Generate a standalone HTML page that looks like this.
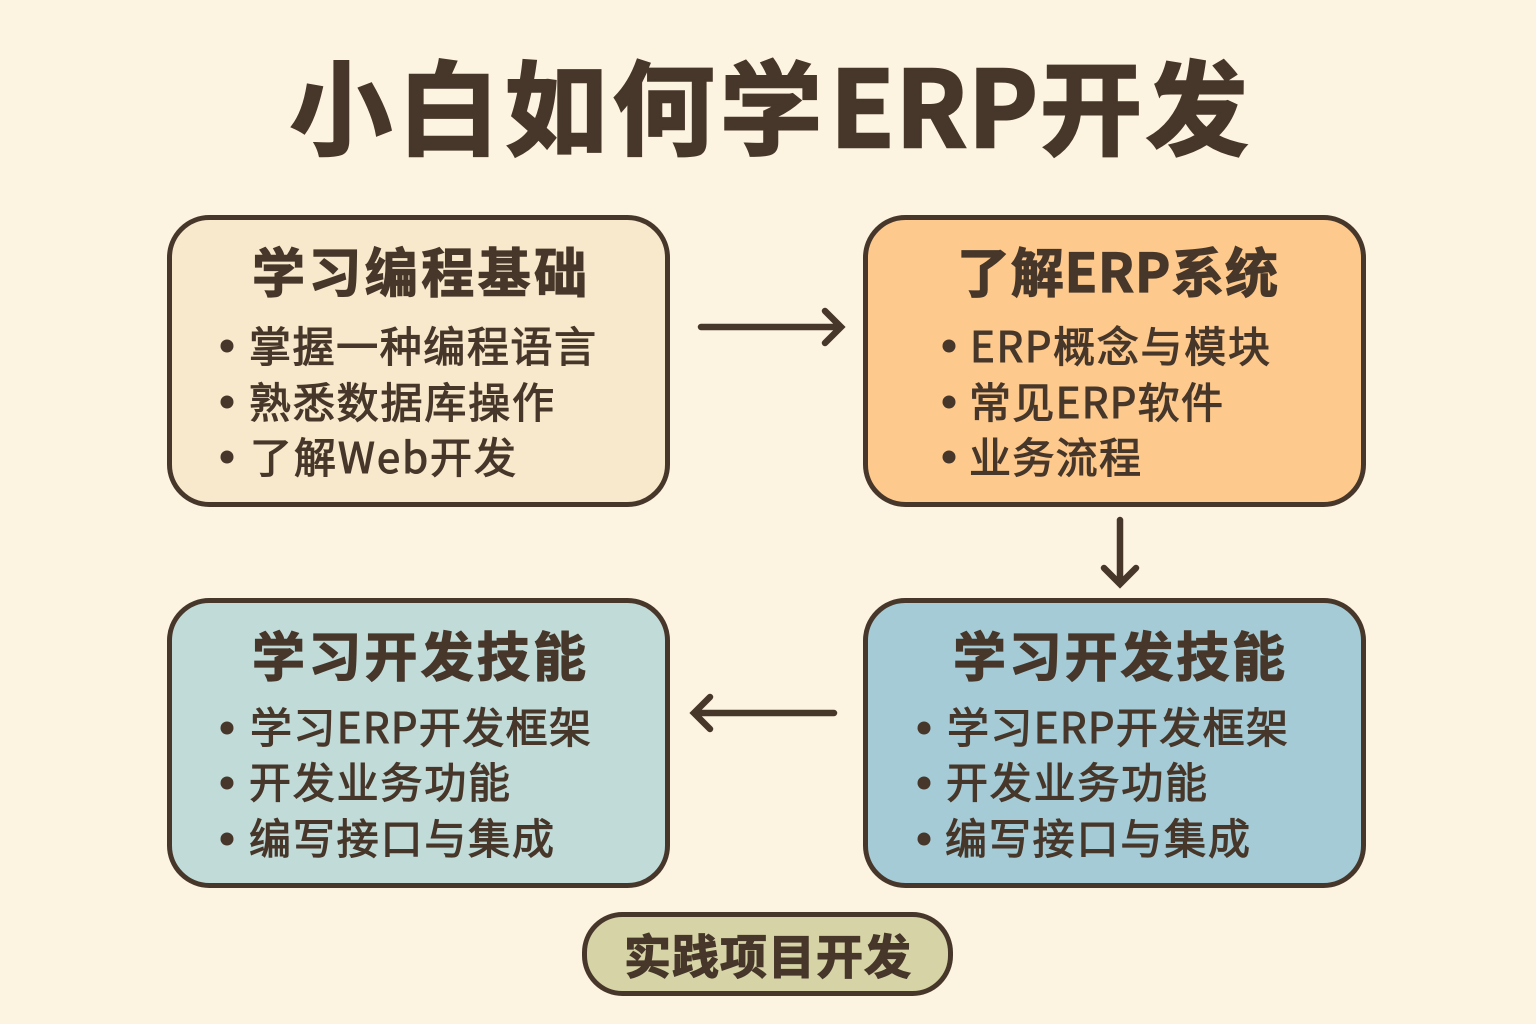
<!DOCTYPE html>
<html lang="zh">
<head>
<meta charset="utf-8">
<title>小白如何学ERP开发</title>
<style>
html,body{margin:0;padding:0;background:#fdf3e1;}
svg{display:block;}
text{font-family:"Noto Sans CJK SC","Liberation Sans",sans-serif;fill:#46372a;}
.t{font-weight:700;font-size:102px;stroke:#46372a;stroke-width:2.500px;}
.h{font-weight:700;font-size:53px;stroke:#46372a;stroke-width:1.200px;}
.l{font-weight:400;font-size:42px;stroke:#46372a;stroke-width:1.100px;}
.box{stroke:#46372a;stroke-width:5px;}
.ar{stroke:#46372a;stroke-width:6.500px;fill:none;stroke-linecap:round;stroke-linejoin:miter;}
.d{fill:#46372a;}
</style>
</head>
<body>
<svg width="1536" height="1024" viewBox="0 0 1536 1024" xmlns="http://www.w3.org/2000/svg">
<rect width="1536" height="1024" fill="#fdf3e1"/>

<text class="t" x="290" y="147" textLength="532" lengthAdjust="spacing">小白如何学</text>
<text class="t" x="830" y="147" textLength="208" lengthAdjust="spacing" style="font-size:105px">ERP</text>
<text class="t" x="1040" y="147" textLength="208" lengthAdjust="spacing">开发</text>

<!-- Box 1 -->
<rect class="box" x="169.500" y="217.500" width="498" height="287" rx="40" fill="#f8e8cc"/>
<text class="h" x="252" y="292" textLength="335" lengthAdjust="spacing">学习编程基础</text>
<circle class="d" cx="227" cy="346" r="6.500"/>
<circle class="d" cx="227" cy="402" r="6.500"/>
<circle class="d" cx="227" cy="457" r="6.500"/>
<text class="l" x="249" y="362" textLength="347" lengthAdjust="spacing">掌握一种编程语言</text>
<text class="l" x="249" y="418" textLength="305" lengthAdjust="spacing">熟悉数据库操作</text>
<text class="l" x="250" y="473" textLength="266" lengthAdjust="spacing">了解Web开发</text>

<!-- Box 2 -->
<rect class="box" x="865.500" y="217.500" width="498" height="287" rx="40" fill="#fdc98d"/>
<text class="h" x="957" y="292" textLength="321" lengthAdjust="spacing">了解ERP系统</text>
<circle class="d" cx="949" cy="346" r="6.500"/>
<circle class="d" cx="949" cy="402" r="6.500"/>
<circle class="d" cx="949" cy="457" r="6.500"/>
<text class="l" x="970" y="362" textLength="300" lengthAdjust="spacing">ERP概念与模块</text>
<text class="l" x="969" y="418" textLength="254" lengthAdjust="spacing">常见ERP软件</text>
<text class="l" x="969" y="473" textLength="172" lengthAdjust="spacing">业务流程</text>

<!-- Box 3 (bottom left) -->
<rect class="box" x="169.500" y="600.500" width="498" height="285" rx="40" fill="#c1dbd9"/>
<text class="h" x="252" y="676" textLength="334" lengthAdjust="spacing">学习开发技能</text>
<circle class="d" cx="227" cy="728" r="6.500"/>
<circle class="d" cx="227" cy="783" r="6.500"/>
<circle class="d" cx="227" cy="839" r="6.500"/>
<text class="l" x="250" y="743" textLength="341" lengthAdjust="spacing">学习ERP开发框架</text>
<text class="l" x="249" y="798" textLength="261" lengthAdjust="spacing">开发业务功能</text>
<text class="l" x="249" y="854" textLength="305" lengthAdjust="spacing">编写接口与集成</text>

<!-- Box 4 (bottom right) -->
<rect class="box" x="865.500" y="600.500" width="498" height="285" rx="40" fill="#a5cbd6"/>
<text class="h" x="953" y="676" textLength="332" lengthAdjust="spacing">学习开发技能</text>
<circle class="d" cx="924" cy="728" r="6.500"/>
<circle class="d" cx="924" cy="783" r="6.500"/>
<circle class="d" cx="924" cy="839" r="6.500"/>
<text class="l" x="947" y="743" textLength="341" lengthAdjust="spacing">学习ERP开发框架</text>
<text class="l" x="946" y="798" textLength="261" lengthAdjust="spacing">开发业务功能</text>
<text class="l" x="945" y="854" textLength="305" lengthAdjust="spacing">编写接口与集成</text>

<!-- Pill -->
<rect class="box" x="584.500" y="914.500" width="366" height="79" rx="38" fill="#d6d3a6"/>
<text class="h" x="624" y="974" style="font-size:47px" textLength="287" lengthAdjust="spacing">实践项目开发</text>

<!-- Arrows -->
<path class="ar" d="M701 327H841M825 311L841 327L825 343"/>
<path class="ar" d="M1120 520V584M1104 568L1120 584L1136 568"/>
<path class="ar" d="M834 713H694M710 697L694 713L710 729"/>
</svg>
</body>
</html>
